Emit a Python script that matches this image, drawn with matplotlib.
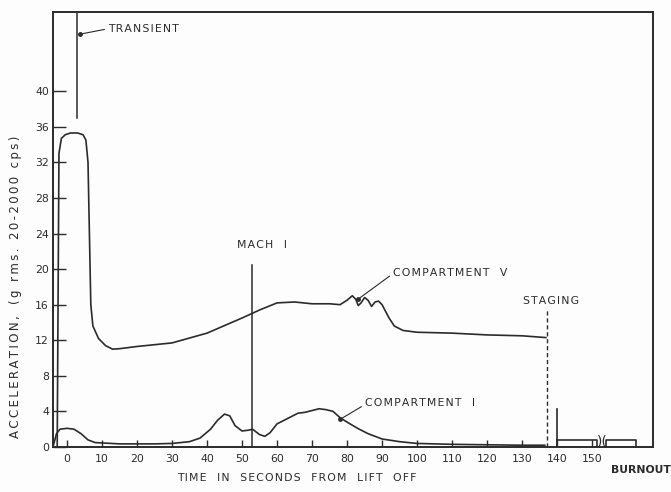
import matplotlib.pyplot as plt

# datos (tiempo en s, aceleracion g rms)
t_comp5 = [-2.8, -2.3, -1.6, -0.5, 1, 3, 4.6, 5.4, 6.0, 6.4, 6.8, 7.4, 9, 11, 13, 15, 20, 30, 40, 50, 55,
           60, 65, 70, 75, 78, 80, 81.5, 82.5, 83.2, 84, 85, 86, 87, 88, 89, 90, 92, 93.5, 96, 100,
           110, 120, 130, 136.8]
g_comp5 = [0, 33, 34.7, 35.1, 35.3, 35.3, 35.1, 34.5, 32, 24, 16, 13.6, 12.2, 11.4, 11.0, 11.05, 11.3, 11.7, 12.8,
           14.5, 15.4, 16.2, 16.3, 16.1, 16.1, 16.0, 16.5, 17.0, 16.6, 15.9, 16.2, 16.8, 16.5, 15.8, 16.3,
           16.4, 16.0, 14.5, 13.6, 13.1, 12.9, 12.8, 12.6, 12.5, 12.3]

t_comp1 = [-4.0, -3, -2, 0, 2, 4, 6, 8, 15, 25, 30, 35, 38, 41, 43, 45, 46.5, 48, 50, 52, 53, 55,
           56.5, 58, 60, 62, 64, 66, 68, 70, 72, 74, 76, 78, 80, 83, 86, 90, 95, 100, 110, 120, 130, 136.5]
g_comp1 = [0, 1.5, 2.0, 2.1, 2.0, 1.5, 0.8, 0.5, 0.35, 0.35, 0.4, 0.6, 1.0, 2.0, 3.0, 3.7, 3.5, 2.4, 1.8,
           1.9, 2.0, 1.4, 1.2, 1.6, 2.6, 3.0, 3.4, 3.8, 3.9, 4.1, 4.3, 4.2, 4.0, 3.3, 2.8, 2.1, 1.5, 0.9,
           0.6, 0.4, 0.3, 0.25, 0.2, 0.2]

# despues del staging
t_post1 = [140, 140, 140, 151.5, 151.5]
g_post1 = [4.3, 0, 0.8, 0.8, 0]
t_post2 = [154, 154, 162.5, 162.5]
g_post2 = [0, 0.8, 0.8, 0]

t_transient = 2.9
t_mach = 52.9
t_staging = 137
xticks = list(range(0, 151, 10))
yticks = list(range(0, 41, 4))


def espaciado(s, sep="\u200a"):
    # letras separadas como en el rotulado original
    return sep.join(s)


ink = "#2b2b2b"
fig = plt.figure(figsize=(6.71, 4.92), dpi=100)
fig.patch.set_facecolor("#fdfdfd")
ax = fig.add_axes([53 / 671, 1 - 447 / 492, 600 / 671, 435 / 492])
ax.set_facecolor("#fdfdfd")

ax.plot(t_comp5, g_comp5, color=ink, lw=1.2)
ax.plot(t_comp1, g_comp1, color=ink, lw=1.2)
ax.plot(t_post1, g_post1, color=ink, lw=1.2)
ax.plot(t_post2, g_post2, color=ink, lw=1.2)

# lineas de referencia
ax.plot([t_transient, t_transient], [37, 49], color=ink, lw=1.1)
ax.plot([t_mach, t_mach], [0, 20.5], color=ink, lw=1.1)
ax.plot([t_staging, t_staging], [0, 15.5], color=ink, lw=1.0, ls=(0, (3, 2)))

# marca de corte del eje
ax.text(152.8, 0.6, ")(", fontsize=10, color=ink, ha="center", va="center")

fs = 7.8
ax.text(11.7, 47.0, espaciado("TRANSIENT"), fontsize=fs, color=ink, va="center")
ax.annotate("", xy=(3.6, 46.4), xytext=(11.5, 47.0),
            arrowprops=dict(arrowstyle="-", color=ink, lw=0.8))
ax.plot(3.6, 46.4, "o", color=ink, ms=2.5)

ax.text(48.6, 22.7, espaciado("MACH") + "   I", fontsize=fs, color=ink, va="center")

ax.text(93.1, 19.6, espaciado("COMPARTMENT") + "   V", fontsize=fs, color=ink, va="center")
ax.annotate("", xy=(83.1, 16.6), xytext=(92.8, 19.4),
            arrowprops=dict(arrowstyle="-", color=ink, lw=0.8))
ax.plot(83.1, 16.6, "o", color=ink, ms=2.5)

ax.text(130.3, 16.4, espaciado("STAGING"), fontsize=fs, color=ink, va="center")

ax.text(85.1, 4.9, espaciado("COMPARTMENT") + "   I", fontsize=fs, color=ink, va="center")
ax.annotate("", xy=(78, 3.1), xytext=(84.8, 4.7),
            arrowprops=dict(arrowstyle="-", color=ink, lw=0.8))
ax.plot(78, 3.1, "o", color=ink, ms=2.5)

ax.text(155.5, -2.6, "BURNOUT", fontsize=fs, color=ink, va="center", fontweight="bold")

ax.set_xlim(-4, 167.4)
ax.set_ylim(0, 48.9)
ax.set_xticks(xticks)
ax.set_yticks(yticks)
ax.tick_params(axis="x", direction="in", length=5, width=1, color=ink, labelcolor=ink, labelsize=fs, pad=5)
ax.tick_params(axis="y", direction="in", length=9, width=1, color=ink, labelcolor=ink, labelsize=fs, pad=3)
for s in ax.spines.values():
    s.set_color(ink)
    s.set_linewidth(1.4)

fig.text(297 / 671, 1 - 478 / 492, "   ".join(espaciado(w) for w in "TIME IN SECONDS FROM LIFT OFF".split()),
         fontsize=fs, color=ink, ha="center", va="center")
fig.text(16 / 671, 1 - 287 / 492,
         espaciado("ACCELERATION,", "\u2009") + "   " + espaciado("(g rms. 20-2000 cps)", "\u2009"),
         fontsize=8.5, color=ink, ha="center", va="center", rotation=90)

fig.savefig("out.png", dpi=100, facecolor=fig.get_facecolor())
